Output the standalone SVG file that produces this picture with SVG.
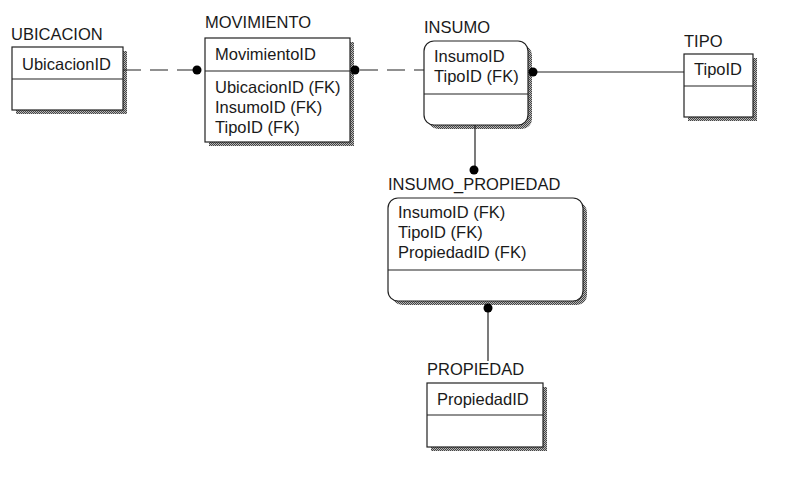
<svg xmlns="http://www.w3.org/2000/svg" width="786" height="478" viewBox="0 0 786 478">
<defs>
<pattern id="hatch" width="2" height="2" patternUnits="userSpaceOnUse">
<rect width="2" height="2" fill="#b8b8b8"/>
<rect width="1" height="1" fill="#444"/>
<rect x="1" y="1" width="1" height="1" fill="#444"/>
</pattern>
</defs>
<style>
text{font-family:"Liberation Sans",Arial,sans-serif;font-size:16.5px;fill:#1a1a1a}
.box{fill:#fff;stroke:#222;stroke-width:1.2}
.sh{fill:url(#hatch)}
.div{stroke:#222;stroke-width:1.2}
.ln{stroke:#222;stroke-width:1.2;fill:none}
.dash{stroke-dasharray:18,9}
.dot{fill:#000}
</style>
<rect width="786" height="478" fill="#fff"/>
<g id="UBICACION">
<text x="11" y="40">UBICACION</text>
<rect class="sh" x="16" y="51" width="111" height="63"/>
<rect class="box" x="12" y="47" width="111" height="63"/>
<line class="div" x1="12" y1="79" x2="123" y2="79"/>
<text x="22" y="70">UbicacionID</text>
</g>
<g id="MOVIMIENTO">
<text x="205" y="28">MOVIMIENTO</text>
<rect class="sh" x="209" y="42" width="145" height="104"/>
<rect class="box" x="205" y="38" width="145" height="104"/>
<line class="div" x1="205" y1="71" x2="350" y2="71"/>
<text x="215" y="60">MovimientoID</text>
<text x="215" y="93">UbicacionID (FK)</text>
<text x="215" y="113">InsumoID (FK)</text>
<text x="215" y="133">TipoID (FK)</text>
</g>
<g id="INSUMO">
<text x="424" y="33">INSUMO</text>
<rect class="sh" x="428" y="45" width="104" height="84" rx="10"/>
<rect class="box" x="424" y="41" width="104" height="84" rx="10"/>
<line class="div" x1="424" y1="94" x2="528" y2="94"/>
<text x="434" y="62">InsumoID</text>
<text x="434" y="82">TipoID (FK)</text>
</g>
<g id="TIPO">
<text x="684" y="47">TIPO</text>
<rect class="sh" x="688" y="58" width="69" height="63"/>
<rect class="box" x="684" y="54" width="69" height="63"/>
<line class="div" x1="684" y1="86" x2="753" y2="86"/>
<text x="694" y="75">TipoID</text>
</g>
<g id="INSUMO_PROPIEDAD">
<text x="388" y="190">INSUMO_PROPIEDAD</text>
<rect class="sh" x="392" y="202" width="195" height="103" rx="10"/>
<rect class="box" x="388" y="198" width="195" height="103" rx="10"/>
<line class="div" x1="388" y1="270" x2="583" y2="270"/>
<text x="398" y="218">InsumoID (FK)</text>
<text x="398" y="238">TipoID (FK)</text>
<text x="398" y="258">PropiedadID (FK)</text>
</g>
<g id="PROPIEDAD">
<text x="427" y="375">PROPIEDAD</text>
<rect class="sh" x="431" y="387" width="116" height="64"/>
<rect class="box" x="427" y="383" width="116" height="64"/>
<line class="div" x1="427" y1="415" x2="543" y2="415"/>
<text x="437" y="405">PropiedadID</text>
</g>
<g id="connectors">
<line class="ln dash" x1="123" y1="70" x2="195" y2="70"/>
<circle class="dot" cx="197" cy="70" r="4.5"/>
<line class="ln dash" x1="360" y1="70" x2="424" y2="70"/>
<circle class="dot" cx="355" cy="70" r="4.5"/>
<line class="ln" x1="533" y1="72" x2="684" y2="72"/>
<circle class="dot" cx="533" cy="72" r="4.5"/>
<line class="ln" x1="475" y1="125" x2="475" y2="170"/>
<circle class="dot" cx="474" cy="170" r="4.5"/>
<line class="ln" x1="488" y1="310" x2="488" y2="361"/>
<circle class="dot" cx="488" cy="308" r="4.5"/>
</g>
</svg>
